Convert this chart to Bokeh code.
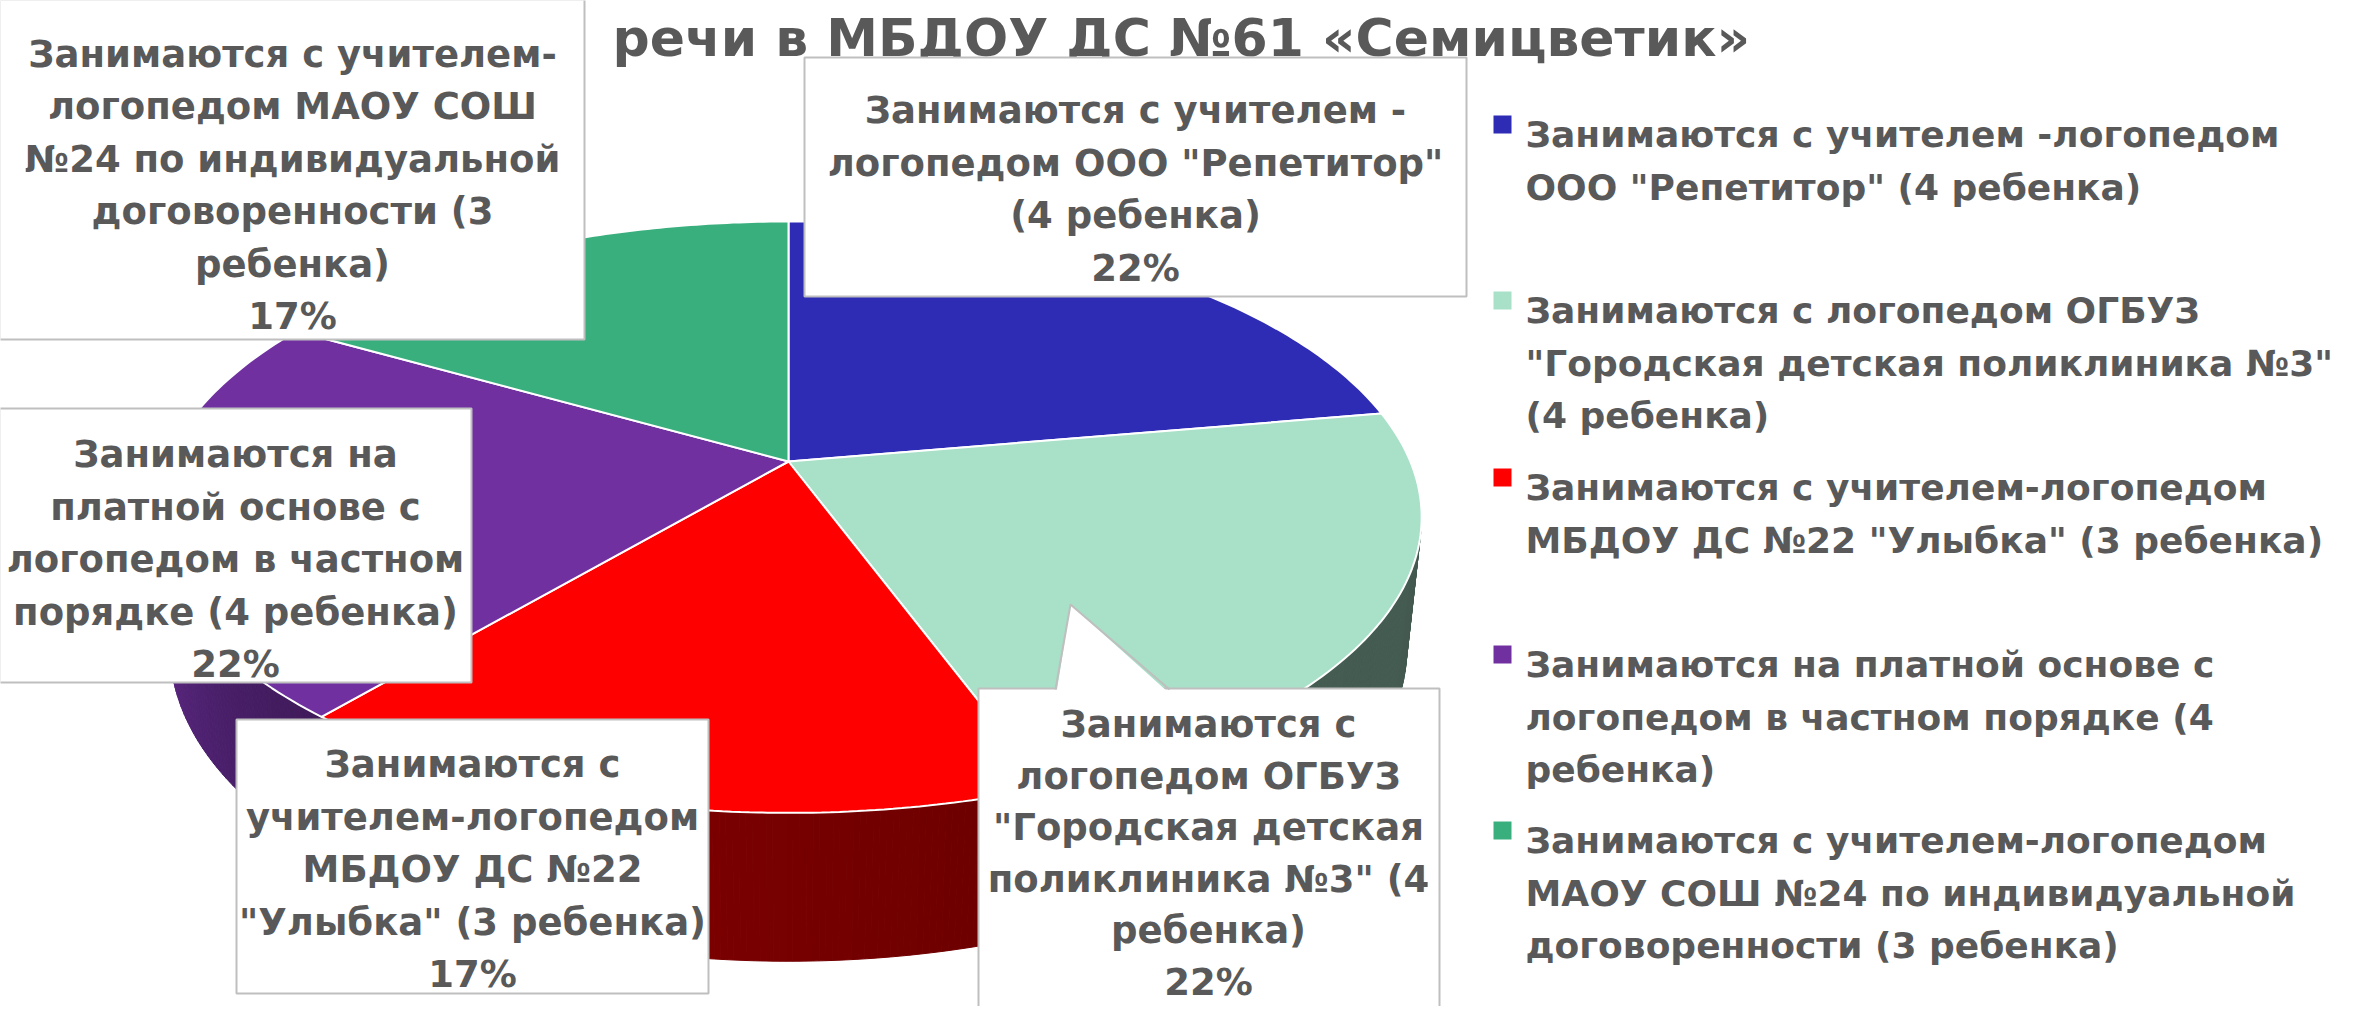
import numpy as np
from bokeh.plotting import figure
from bokeh.models import Range1d
from bokeh.core.properties import value
from bokeh.embed import file_html
from bokeh.resources import INLINE

# ---------------- data ----------------
title_text = "речи в МБДОУ ДС №61 «Семицветик»"

categories = [
    'Занимаются с учителем -логопедом ООО "Репетитор" (4 ребенка)',
    'Занимаются с логопедом ОГБУЗ "Городская детская поликлиника №3" (4 ребенка)',
    'Занимаются с учителем-логопедом МБДОУ ДС №22 "Улыбка" (3 ребенка)',
    'Занимаются на платной основе с логопедом в частном порядке (4 ребенка)',
    'Занимаются с учителем-логопедом МАОУ СОШ №24 по индивидуальной договоренности (3 ребенка)',
]
values = [4, 4, 3, 4, 3]
colors = ["#2E2BB5", "#A8E0C8", "#FF0000", "#7030A0", "#3AAF7E"]

legend_lines = [
    ["Занимаются с учителем -логопедом", 'ООО "Репетитор" (4 ребенка)'],
    ["Занимаются с логопедом ОГБУЗ", '"Городская детская поликлиника №3"', "(4 ребенка)"],
    ["Занимаются с учителем-логопедом", 'МБДОУ ДС №22 "Улыбка" (3 ребенка)'],
    ["Занимаются на платной основе с", "логопедом в частном порядке (4", "ребенка)"],
    ["Занимаются с учителем-логопедом", "МАОУ СОШ №24 по индивидуальной", "договоренности (3 ребенка)"],
]
label_lines = [
    ["Занимаются с учителем -", 'логопедом ООО "Репетитор"', "(4 ребенка)"],
    ["Занимаются с", "логопедом ОГБУЗ", '"Городская детская', 'поликлиника №3" (4', "ребенка)"],
    ["Занимаются с", "учителем-логопедом", "МБДОУ ДС №22", '"Улыбка" (3 ребенка)'],
    ["Занимаются на", "платной основе с", "логопедом в частном", "порядке (4 ребенка)"],
    ["Занимаются с учителем-", "логопедом МАОУ СОШ", "№24 по индивидуальной", "договоренности (3", "ребенка)"],
]

total = sum(values)
percents = [f"{round(100 * v / total)}%" for v in values]

# ---------------- layout / style ----------------
W, H = 2339, 1006
FONT = value("DejaVu Sans")
TXT = "#595959"
LABEL_SIZE = "37px"
LEGEND_SIZE = "36px"

# label boxes (left, right, top, bottom), text anchor (center x, first baseline), line step
boxes = [
    (812, 1474, 65, 304, 1143, 118, 52.6),
    (986, 1447, 696, 1040, 1216, 732, 51.6),
    (244, 716, 727, 1001, 480, 772, 52.6),
    (7, 479, 416, 690, 243, 462, 52.6),
    (7, 592, 7, 347, 300, 62, 52.4),
]
legend_x_marker, legend_x_text = 1510, 1533
legend_baselines = [142, 318, 495, 672, 848]
LEGEND_STEP = 52.6

# perspective projection of a 3D pie
PHI = np.radians(27.3)
CP, SP = np.cos(PHI), np.sin(PHI)
DIST, FOC, DEPTH = 4.72, 2935.0, 0.239
CX, CY = 796.0, 469.0


def proj(X, Y, Z):
    d = Y * CP - Z * SP + DIST
    up = Y * SP + Z * CP
    return CX + FOC * X / d, CY - FOC * up / d


p = figure(width=W, height=H, output_backend="svg", toolbar_location=None,
           x_range=Range1d(8, 8 + W), y_range=Range1d(8 + H, 8),
           x_axis_location=None, y_axis_location=None, min_border=0,
           outline_line_color=None, background_fill_color="white",
           border_fill_color="white")
p.grid.visible = False

# slice angles (start at 12 o'clock, clockwise)
starts, ends = [], []
a = 90.0
for v in values:
    starts.append(a)
    a -= 360.0 * v / total
    ends.append(a)


def shade(hex_color, f):
    h = hex_color.lstrip("#")
    r, g, b = (int(h[i:i + 2], 16) for i in (0, 2, 4))
    return "#%02x%02x%02x" % (int(r * f), int(g * f), int(b * f))


# sides (front facing part)
sx, sy, sc = [], [], []
lim = -1.0 / (DIST * CP)
for i, (s0, e0) in enumerate(zip(starts, ends)):
    th = np.linspace(s0, e0, 120)
    for k in range(len(th) - 1):
        t0, t1 = np.radians(th[k]), np.radians(th[k + 1])
        tm = 0.5 * (t0 + t1)
        if np.sin(tm) >= lim + 0.02:
            continue
        x0, y0 = proj(np.cos(t0), np.sin(t0), 0)
        x1, y1 = proj(np.cos(t1), np.sin(t1), 0)
        x2, y2 = proj(np.cos(t1), np.sin(t1), -DEPTH)
        x3, y3 = proj(np.cos(t0), np.sin(t0), -DEPTH)
        deg = np.degrees(tm)
        while deg > 0:
            deg -= 360
        while deg < -360:
            deg += 360
        f = np.interp(deg, [-200, -165, -130, -70, 0], [0.8, 0.8, 0.56, 0.42, 0.40])
        sx.append([x0, x1, x2, x3])
        sy.append([y0, y1, y2, y3])
        sc.append(shade(colors[i], f))
p.patches(sx, sy, fill_color=sc, line_color=sc, line_width=1)

# top faces
tx, ty = [], []
for s0, e0 in zip(starts, ends):
    th = np.radians(np.linspace(s0, e0, 90))
    ax, ay = proj(0.0, 0.0, 0.0)
    px, py = proj(np.cos(th), np.sin(th), 0.0)
    tx.append([ax] + list(px))
    ty.append([ay] + list(py))
p.patches(tx, ty, fill_color=colors, line_color="white", line_width=2)

# title
p.text(x=[620], y=[45], text=[title_text], text_font=FONT, text_font_style="bold",
       text_font_size="52px", text_color=TXT, text_align="left", text_baseline="alphabetic")

# label boxes
BORDER = "#BFBFBF"
p.quad(left=[b[0] for b in boxes], right=[b[1] for b in boxes],
       top=[b[2] for b in boxes], bottom=[b[3] for b in boxes],
       fill_color="white", line_color=BORDER, line_width=2)

# callout pointer of the lightgreen label
p.patch([1064, 1078, 1176], [700, 612, 700], fill_color="white", line_color=None)
p.line([1063, 1078, 1177], [697, 612, 697], line_color=BORDER, line_width=2)

lx, ly, lt = [], [], []
for i, b in enumerate(boxes):
    lines = label_lines[i] + [percents[i]]
    for j, t in enumerate(lines):
        lx.append(b[4])
        ly.append(b[5] + j * b[6])
        lt.append(t)
p.text(x=lx, y=ly, text=lt, text_font=FONT, text_font_style="bold",
       text_font_size=LABEL_SIZE, text_color=TXT, text_align="center",
       text_baseline="alphabetic")

# legend
gx, gy, gt = [], [], []
for i, lines in enumerate(legend_lines):
    for j, t in enumerate(lines):
        gx.append(legend_x_text)
        gy.append(legend_baselines[i] + j * LEGEND_STEP)
        gt.append(t)
p.rect(x=[legend_x_marker] * len(values), y=[b - 10 for b in legend_baselines],
       width=18, height=18, fill_color=colors, line_color=None)
p.text(x=gx, y=gy, text=gt, text_font=FONT, text_font_style="bold",
       text_font_size=LEGEND_SIZE, text_color=TXT, text_align="left",
       text_baseline="alphabetic")

open("out.html", "w").write(file_html(p, INLINE))
